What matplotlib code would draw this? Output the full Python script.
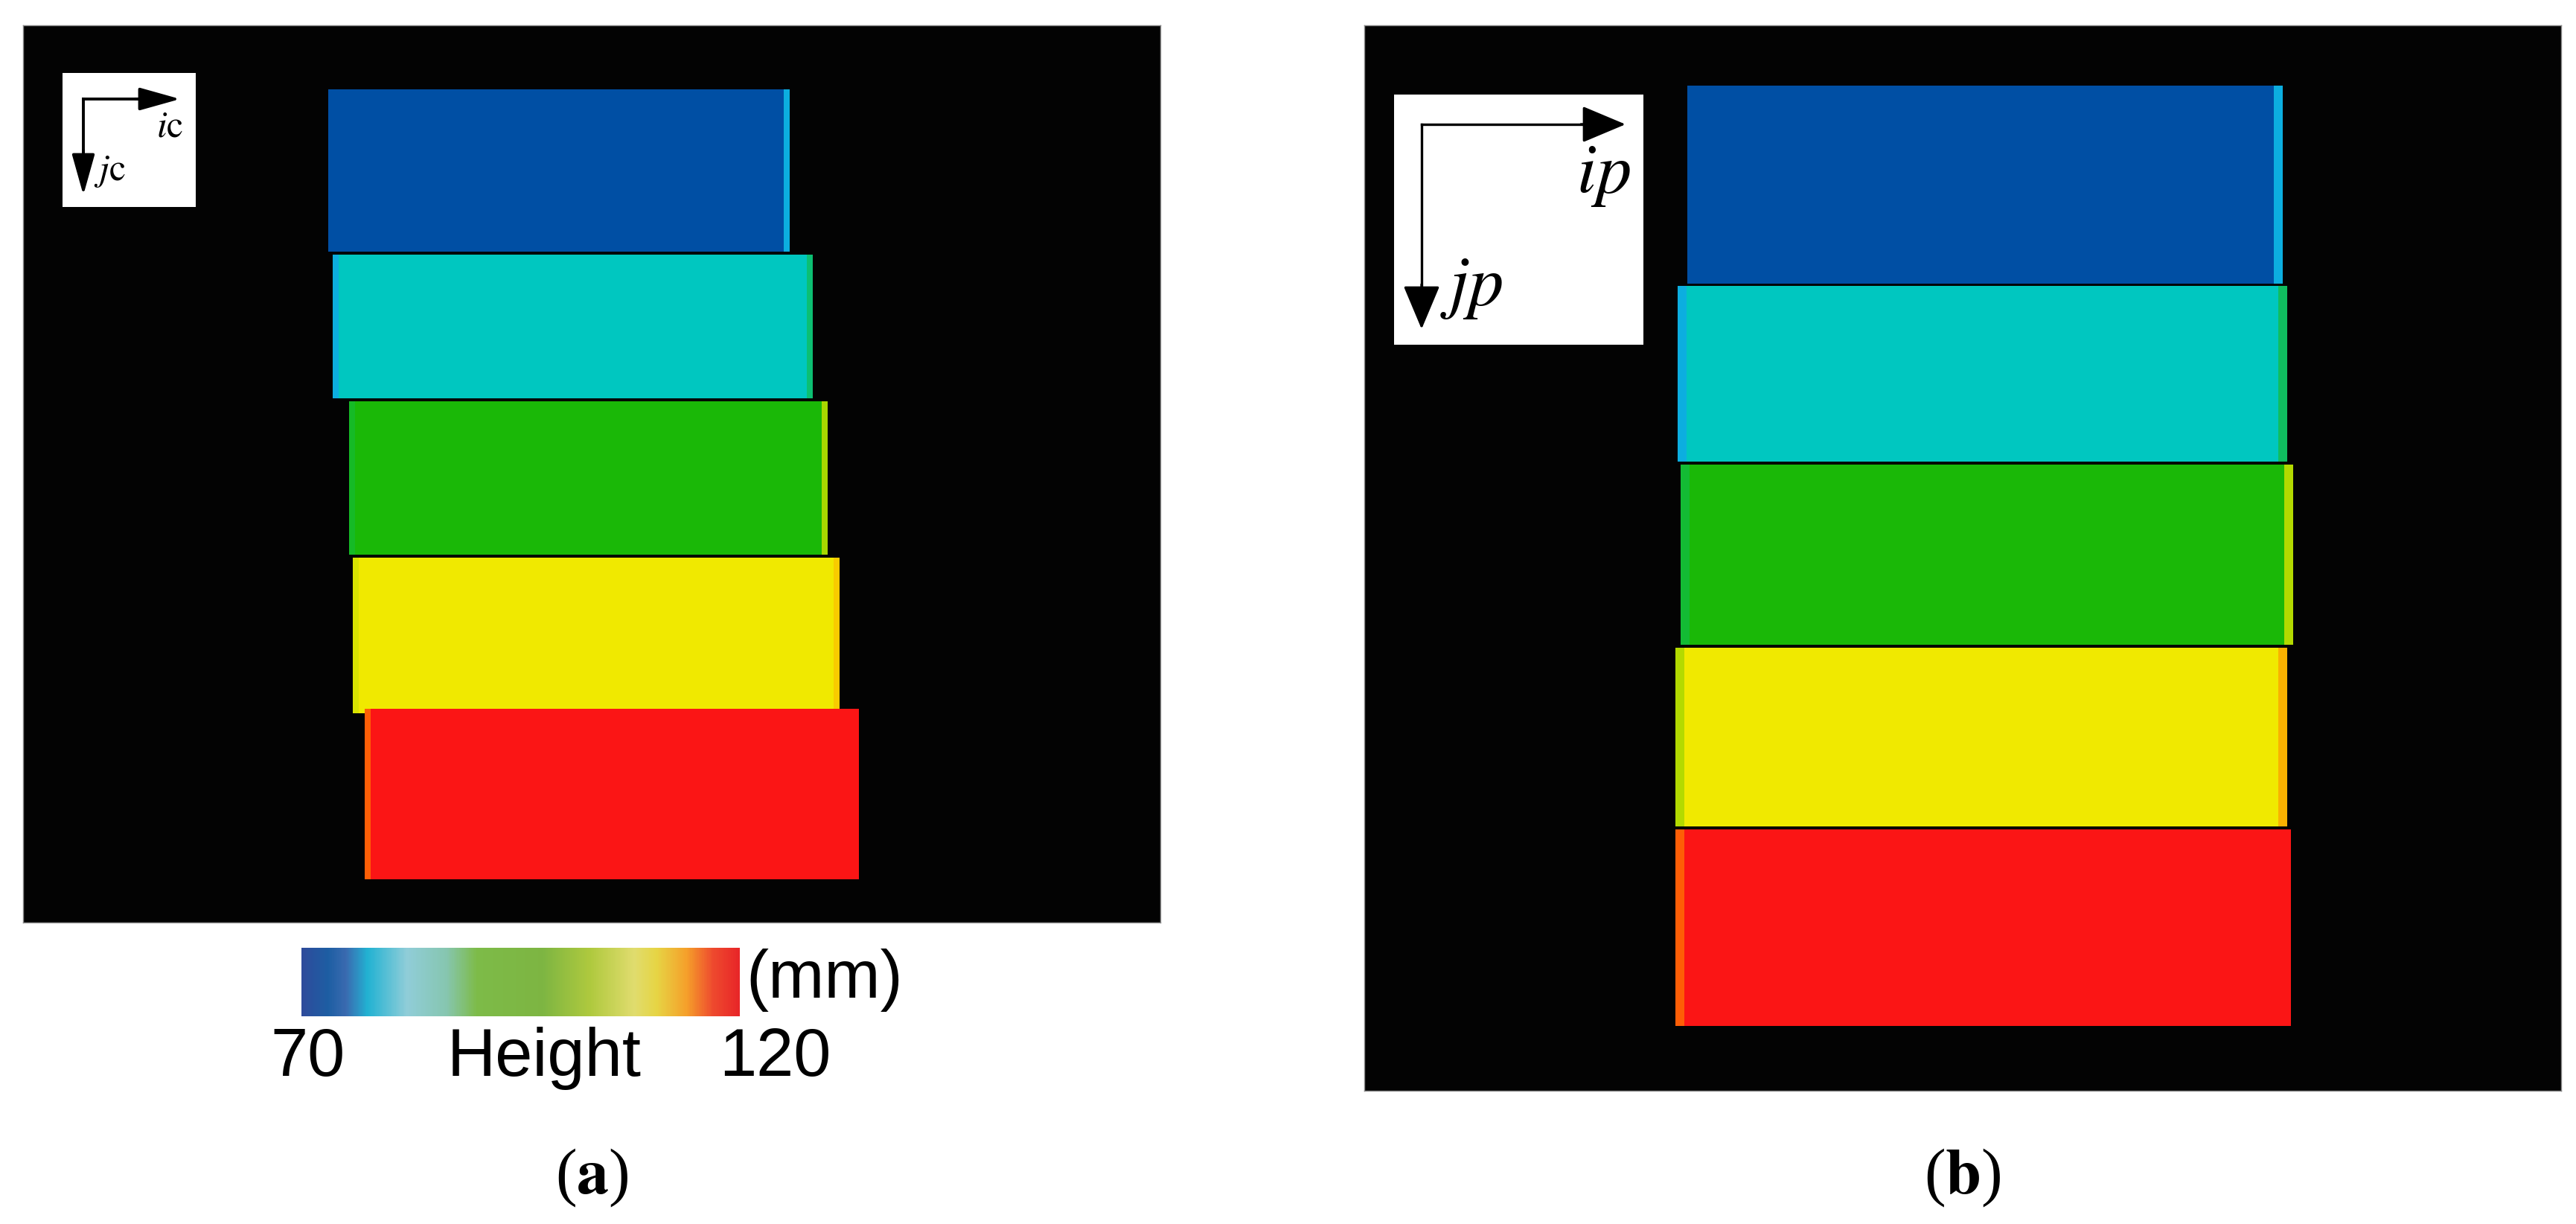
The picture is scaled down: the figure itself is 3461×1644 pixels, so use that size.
import numpy as np
import matplotlib
matplotlib.use("Agg")
import matplotlib.pyplot as plt
from matplotlib.colors import LinearSegmentedColormap, Normalize
from matplotlib.patches import Rectangle
import matplotlib.cm as cm

plt.rcParams['mathtext.fontset'] = 'stix'

# ---------------- data ----------------
band_names = ["blue", "cyan", "green", "yellow", "red"]
band_heights = [74, 84, 95, 106, 117]          # mm (band interior)
band_left_edge = [74, 80, 93, 104, 114]        # mm at left edge strip
band_right_edge = [80, 88, 100, 110, 117]      # mm at right edge strip
band_left_edge_b = [74, 80, 92, 101, 114]
band_right_edge_b = [80, 89, 101, 111, 117]

# band extents (image pixel columns/rows) for camera view (a) and projector view (b)
bands_a_x = [(441, 1061), (447, 1092), (469, 1112), (474, 1128), (490, 1154)]
bands_a_y = [(120, 338), (342, 535), (539, 745), (749, 958), (952, 1181)]
bands_b_x = [(2267, 3067), (2254, 3073), (2258, 3081), (2251, 3073), (2251, 3078)]
bands_b_y = [(115, 381), (384, 620), (624, 866), (870, 1110), (1114, 1378)]

height_min, height_max = 70, 120
cbar_ticks = ["70", "Height", "120"]
cbar_unit = "(mm)"
panel_labels = ["a", "b"]

# ---------------- colormaps ----------------
map_anchor_mm = [70, 74, 79, 84, 89, 95, 100, 106, 110, 113, 117, 120]
map_anchor_col = ["#00308A", "#0050A5", "#10A8E8", "#00C8C0", "#10BE60", "#18B808",
                  "#A8D800", "#F0EA00", "#F8CC00", "#FF7A00", "#FC1616", "#E00000"]
map_cmap = LinearSegmentedColormap.from_list(
    "heightmap",
    [((v - height_min) / (height_max - height_min), c) for v, c in zip(map_anchor_mm, map_anchor_col)])
map_cmap.set_bad("#030303")

cbar_pos = [0.00, 0.06, 0.10, 0.15, 0.24, 0.33, 0.40, 0.55, 0.66, 0.76, 0.81, 0.88, 0.94, 1.00]
cbar_col = ["#2E4B9B", "#1D5EA3", "#3A6AB0", "#22B2D2", "#90CDD8", "#86C6B0", "#7DBB48",
            "#7DB542", "#AFC93E", "#E0DC6E", "#E6D545", "#F5A02A", "#EE4A2E", "#E82628"]
cbar_cmap = LinearSegmentedColormap.from_list("legend", list(zip(cbar_pos, cbar_col)))

W, H = 3462, 1644
fig = plt.figure(figsize=(W / 100, H / 100), dpi=100)
fig.patch.set_facecolor("white")


def add_px_axes(x0, y0, x1, y1):
    return fig.add_axes([x0 / W, 1 - y1 / H, (x1 - x0) / W, (y1 - y0) / H])


def draw_panel(px, bx, by, heights, ledge, redge, edge_w):
    x0, y0, x1, y1 = px
    ax = add_px_axes(x0, y0, x1, y1)
    hmap = np.full((y1 - y0, x1 - x0), np.nan)
    for (bx0, bx1), (by0, by1), h, le, re in zip(bx, by, heights, ledge, redge):
        r0, r1 = by0 - y0, by1 - y0
        c0, c1 = bx0 - x0, bx1 - x0
        hmap[r0:r1, c0:c1] = h
        hmap[r0:r1, c0:c0 + edge_w] = le
        hmap[r0:r1, c1 - edge_w:c1] = re
    ax.imshow(hmap, cmap=map_cmap, vmin=height_min, vmax=height_max,
              extent=[x0, x1, y1, y0], interpolation="nearest", aspect="auto")
    ax.set_xlim(x0, x1)
    ax.set_ylim(y1, y0)
    ax.set_xticks([])
    ax.set_yticks([])
    for s in ax.spines.values():
        s.set_edgecolor("#888888")
        s.set_linewidth(1.0)
    return ax


def draw_axes_indicator(ax, box, corner, htip, vtip, lw, ms, hl, hw, ilab, ipos, jlab, jpos, fs):
    bx0, by0, bx1, by1 = box
    ax.add_patch(Rectangle((bx0, by0), bx1 - bx0, by1 - by0, facecolor="white",
                           edgecolor="none", zorder=3))
    style = f"-|>,head_length={hl},head_width={hw}"
    ax.plot([corner[0], corner[0]], [corner[1], vtip - 30], color="black", lw=lw,
            solid_capstyle="projecting", zorder=4)
    ax.plot([corner[0], htip - 30], [corner[1], corner[1]], color="black", lw=lw,
            solid_capstyle="projecting", zorder=4)
    ax.annotate("", xy=(htip, corner[1]), xytext=(htip - 60, corner[1]),
                arrowprops=dict(arrowstyle=style, color="black", lw=lw,
                                mutation_scale=ms, shrinkA=0, shrinkB=0), zorder=5)
    ax.annotate("", xy=(corner[0], vtip), xytext=(corner[0], vtip - 60),
                arrowprops=dict(arrowstyle=style, color="black", lw=lw,
                                mutation_scale=ms, shrinkA=0, shrinkB=0), zorder=5)
    ax.text(ipos[0], ipos[1], ilab, fontsize=fs, ha="left", va="baseline", zorder=6)
    ax.text(jpos[0], jpos[1], jlab, fontsize=fs, ha="left", va="baseline", zorder=6)


# panel (a)
ax_a = draw_panel((31, 34, 1559, 1239), bands_a_x, bands_a_y, band_heights,
                  band_left_edge, band_right_edge, 8)
draw_axes_indicator(ax_a, (84, 98, 263, 278), (112, 133), 242, 262, 2.8, 34, 1.0, 0.28,
                    r"$i\mathrm{c}$", (210, 183), r"$j\mathrm{c}$", (126, 242), 36)

# panel (b)
ax_b = draw_panel((1833, 34, 3441, 1465), bands_b_x, bands_b_y, band_heights,
                  band_left_edge_b, band_right_edge_b, 12)
draw_axes_indicator(ax_b, (1873, 127, 2208, 463), (1910, 167), 2184, 442, 2.4, 37, 1.0, 0.42,
                    r"$ip$", (2118, 258), r"$jp$", (1935, 409), 68)

# colour bar legend
cax = add_px_axes(405, 1273, 994, 1365)
sm = cm.ScalarMappable(norm=Normalize(height_min, height_max), cmap=cbar_cmap)
cb = fig.colorbar(sm, cax=cax, orientation="horizontal")
cb.outline.set_visible(False)
cb.set_ticks([])

sans = "Liberation Sans"
fig.text(414 / W, 1 - 1445 / H, cbar_ticks[0], fontsize=65, family=sans,
         ha="center", va="baseline")
fig.text(731 / W, 1 - 1445 / H, cbar_ticks[1], fontsize=65, family=sans,
         ha="center", va="baseline")
fig.text(1041 / W, 1 - 1445 / H, cbar_ticks[2], fontsize=65, family=sans,
         ha="center", va="baseline")
fig.text(1002 / W, 1 - 1340 / H, cbar_unit, fontsize=65, family=sans,
         ha="left", va="baseline")

# panel labels
serif = "Liberation Serif"
for lab, cx in zip(panel_labels, [795, 2637]):
    fig.text(cx / W, 1 - 1582 / H, "(" + r"$\mathbf{" + lab + "}$" + ")",
             fontsize=62, family=serif, ha="center", va="center")

fig.savefig("out.png", dpi=100, facecolor="white")
